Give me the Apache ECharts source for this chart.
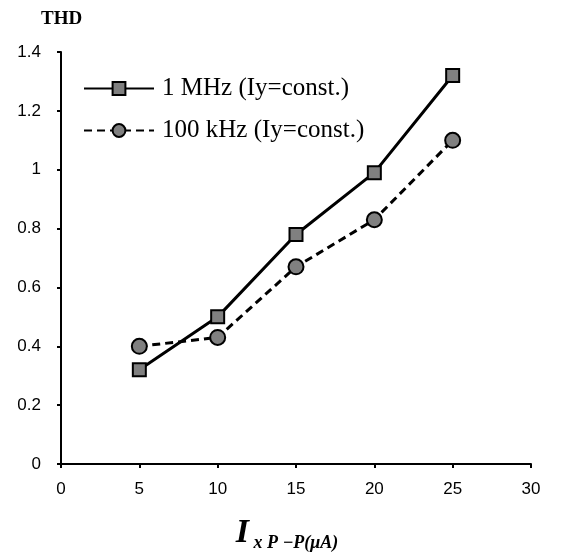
<!DOCTYPE html>
<html><head><meta charset="utf-8">
<script src="https://cdn.jsdelivr.net/npm/echarts@6/dist/echarts.min.js"></script>
<style>html,body{margin:0;padding:0;background:#fff}#c{width:563px;height:555px}</style>
</head><body><div id="c"></div>
<script>
const categories = [5, 10, 15, 20, 25];
const mhzValues = [0.32, 0.50, 0.78, 0.99, 1.32];
const khzValues = [0.40, 0.43, 0.67, 0.83, 1.10];
const seriesNames = ['1 MHz (Iy=const.)', '100 kHz (Iy=const.)'];

const chart = echarts.init(document.getElementById('c'));
chart.setOption({
  animation: false,
  backgroundColor: '#fff',
  grid: {left: 61, right: 32, top: 52, bottom: 91, outerBoundsMode: 'none', containLabel: false},
  title: {text: 'THD', left: 36, top: 5, textStyle: {fontFamily: 'Liberation Serif', fontWeight: 'bold', fontSize: 19, color: '#000'}},
  legend: {
    orient: 'vertical', left: 78, top: 71, itemWidth: 70, itemHeight: 16, itemGap: 17,
    textStyle: {fontFamily: 'Liberation Serif', fontSize: 25, color: '#000', padding: [0,0,0,3]},
    data: seriesNames
  },
  xAxis: {
    type: 'value', min: 0, max: 30, interval: 5,
    axisLine: {lineStyle: {color: '#000', width: 2}},
    axisTick: {show: true, length: 4, lineStyle: {color: '#000', width: 2}},
    axisLabel: {fontFamily: 'Liberation Sans', fontSize: 17, color: '#000', margin: 17},
    splitLine: {show: false},
    name: '{a|I}{b| x P −P(μA)}', nameLocation: 'middle', nameGap: 50,
    nameTextStyle: {padding: [0, 18, 0, 0], rich: {
      a: {fontFamily: 'Liberation Serif', fontStyle: 'italic', fontWeight: 'bold', fontSize: 34, color: '#000'},
      b: {fontFamily: 'Liberation Serif', fontStyle: 'italic', fontWeight: 'bold', fontSize: 18, color: '#000', padding: [20,0,0,0]}
    }}
  },
  yAxis: {
    type: 'value', min: 0, max: 1.4, interval: 0.2,
    axisLine: {show: true, lineStyle: {color: '#000', width: 2}},
    axisTick: {show: true, length: 4, lineStyle: {color: '#000', width: 2}},
    axisLabel: {fontFamily: 'Liberation Sans', fontSize: 17, color: '#000', margin: 20,
      formatter: v => String(Math.round(v*10)/10)},
    splitLine: {show: false}
  },
  series: [
    {name: seriesNames[0], type: 'line', data: categories.map((c,i)=>[c, mhzValues[i]]),
     symbol: 'rect', symbolSize: 13,
     lineStyle: {color: '#000', width: 3},
     itemStyle: {color: '#808080', borderColor: '#000', borderWidth: 2}},
    {name: seriesNames[1], type: 'line', data: categories.map((c,i)=>[c, khzValues[i]]),
     symbol: 'circle', symbolSize: 15,
     lineStyle: {color: '#000', width: 3, type: [8,5]},
     itemStyle: {color: '#808080', borderColor: '#000', borderWidth: 2}}
  ]
});
</script></body></html>
